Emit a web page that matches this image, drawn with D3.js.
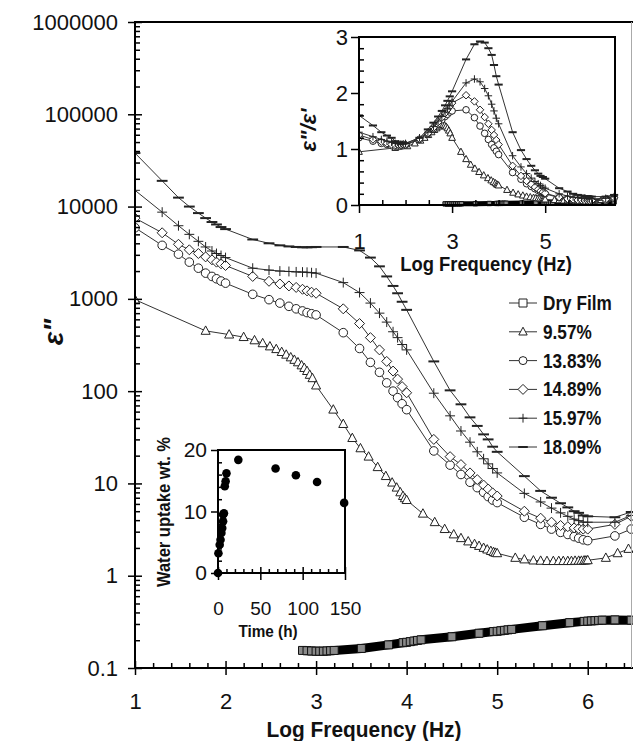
<!DOCTYPE html>
<html>
<head>
<meta charset="utf-8">
<script src="https://cdn.jsdelivr.net/npm/d3@7"></script>
<style>
  body { margin: 0; background: #fff; }
  svg { display: block; }
</style>
</head>
<body>
<script>
// ---- data ----
const seriesNames = ["Dry Film", "9.57%", "13.83%", "14.89%", "15.97%", "18.09%"];

// log10 frequency grid shared by the 13.83 .. 18.09 % runs
const logFreq = [1, 1.3, 1.48, 1.6, 1.7, 1.78, 1.85, 1.9, 1.95, 2,
  2.3, 2.48, 2.6, 2.7, 2.78, 2.85, 2.9, 2.95, 3,
  3.3, 3.48, 3.6, 3.7, 3.78, 3.85, 3.9, 3.95, 4,
  4.3, 4.48, 4.6, 4.7, 4.78, 4.85, 4.9, 4.95, 5,
  5.3, 5.48, 5.6, 5.7, 5.78, 5.85, 5.9, 5.95, 6,
  6.3, 6.48];

const eps1809 = [38000, 19000, 12500, 10000, 8500, 7500, 6800, 6400, 6000, 5700,
  4400, 4000, 3800, 3700, 3650, 3620, 3620, 3630, 3650,
  3650, 3350, 2800, 2250, 1750, 1380, 1150, 930, 760,
  210, 102, 72, 52, 42, 34, 30, 25, 22,
  12, 8.3, 7, 6.1, 5.5, 5, 4.8, 4.5, 4.4,
  4.3, 4.9];
const eps1597 = [15000, 8700, 6200, 5000, 4200, 3650, 3300, 3100, 2950, 2800,
  2150, 2050, 2000, 1980, 1960, 1950, 1940, 1920, 1900,
  1500, 1170, 900, 700, 560, 440, 380, 320, 280,
  95, 54, 37, 28, 22, 18.5, 16.3, 14.5, 13,
  7.8, 6.3, 5.4, 4.8, 4.4, 4.1, 3.95, 3.8, 3.8,
  3.8, 4.5];
const eps1489 = [7500, 5200, 3900, 3400, 3100, 2850, 2650, 2500, 2400, 2300,
  1750, 1550, 1450, 1380, 1330, 1270, 1220, 1180, 1150,
  780, 540, 380, 280, 210, 165, 135, 112, 96,
  30, 19.5, 16, 13, 11, 9.6, 8.7, 7.9, 7.3,
  5, 4.2, 3.8, 3.5, 3.4, 3.3, 3.25, 3.2, 3.2,
  3.6, 4.4];
const eps1383 = [5900, 3800, 3050, 2500, 2150, 1900, 1750, 1650, 1560, 1480,
  1120, 980, 900, 830, 780, 740, 710, 690, 670,
  430, 290, 205, 160, 123, 100, 85, 73, 63,
  22.5, 15.8, 12.5, 10.3, 9, 8, 7.2, 6.6, 6.2,
  4.3, 3.6, 3.2, 2.95, 2.8, 2.65, 2.55, 2.45, 2.4,
  2.7, 3.2];

// the 9.57 % run was measured on its own frequency list
const logFreqTri = [1, 1.78, 2.04, 2.2, 2.32, 2.41, 2.49, 2.56, 2.62, 2.67, 2.72, 2.76, 2.8, 2.84, 2.87, 2.9, 2.93, 2.96, 3,
  3.19, 3.3, 3.4, 3.49, 3.58, 3.68, 3.77, 3.84, 3.89, 3.93, 3.96, 3.98, 4,
  4.18, 4.31, 4.42, 4.52, 4.6, 4.68, 4.75, 4.8, 4.85, 4.89, 4.93, 4.96, 4.98, 5,
  5.2, 5.3, 5.4, 5.48, 5.55, 5.62, 5.68, 5.73, 5.78, 5.82, 5.86, 5.9, 5.93, 5.96, 5.98, 6,
  6.2, 6.33, 6.45];
const eps957 = [980, 450, 410, 385, 355, 330, 305, 285, 265, 248, 232, 218, 205, 190, 178, 165, 150, 138, 115,
  63, 44, 31, 24, 19.5, 15, 12, 10.2, 9, 8, 7.3, 6.9, 6.6,
  4.7, 3.8, 3.2, 2.8, 2.55, 2.35, 2.2, 2.1, 2.0, 1.92, 1.85, 1.8, 1.77, 1.75,
  1.56, 1.5, 1.46, 1.45, 1.44, 1.44, 1.44, 1.44, 1.44, 1.44, 1.45, 1.45, 1.45, 1.46, 1.46, 1.47,
  1.56, 1.75, 1.95];

const logFreqDry = [2.85, 2.9, 2.95, 3, 3.04, 3.08, 3.12, 3.16, 3.2, 3.5, 3.8,
  3.96, 4, 4.04, 4.08, 4.12, 4.16, 4.5, 4.8,
  4.96, 5, 5.04, 5.08, 5.12, 5.16, 5.5, 5.8,
  5.96, 6, 6.04, 6.08, 6.12, 6.16, 6.3, 6.48];
const epsDry = [0.155, 0.154, 0.153, 0.152, 0.152, 0.152, 0.153, 0.154, 0.155, 0.163, 0.178,
  0.188, 0.19, 0.193, 0.196, 0.199, 0.202, 0.218, 0.238,
  0.248, 0.25, 0.253, 0.256, 0.259, 0.262, 0.287, 0.31,
  0.32, 0.322, 0.324, 0.326, 0.328, 0.33, 0.332, 0.33];

// loss tangent (inset, top right)
const ratio1809 = [1.6, 1.42, 1.3, 1.24, 1.2, 1.14, 1.12, 1.11, 1.1, 1.1,
  1.2, 1.35, 1.47, 1.58, 1.68, 1.78, 1.86, 1.94, 2.03,
  2.6, 2.87, 2.92, 2.9, 2.8, 2.68, 2.5, 2.3, 2.15,
  1.3, 0.98, 0.82, 0.7, 0.62, 0.56, 0.52, 0.5, 0.47,
  0.3, 0.24, 0.2, 0.18, 0.17, 0.16, 0.16, 0.15, 0.15,
  0.15, 0.18];
const ratio1597 = [1.3, 1.22, 1.17, 1.14, 1.12, 1.1, 1.09, 1.09, 1.09, 1.1,
  1.2, 1.3, 1.4, 1.5, 1.58, 1.66, 1.72, 1.78, 1.85,
  2.18, 2.25, 2.2, 2.08, 1.95, 1.8, 1.68, 1.55, 1.45,
  0.88, 0.68, 0.56, 0.48, 0.42, 0.38, 0.35, 0.32, 0.3,
  0.2, 0.16, 0.14, 0.13, 0.12, 0.12, 0.11, 0.11, 0.11,
  0.12, 0.15];
const ratio1489 = [1.25, 1.17, 1.13, 1.1, 1.08, 1.07, 1.07, 1.07, 1.08, 1.08,
  1.18, 1.28, 1.38, 1.48, 1.56, 1.64, 1.7, 1.76, 1.82,
  1.96, 1.85, 1.7, 1.57, 1.45, 1.34, 1.25, 1.16, 1.08,
  0.7, 0.52, 0.43, 0.37, 0.32, 0.28, 0.25, 0.23, 0.21,
  0.14, 0.11, 0.1, 0.09, 0.09, 0.08, 0.08, 0.08, 0.08,
  0.1, 0.13];
const ratio1383 = [1.2, 1.14, 1.1, 1.08, 1.06, 1.05, 1.05, 1.05, 1.06, 1.07,
  1.17, 1.27, 1.36, 1.45, 1.52, 1.58, 1.62, 1.66, 1.68,
  1.7, 1.56, 1.41, 1.28, 1.17, 1.08, 1.02, 0.96, 0.9,
  0.58, 0.46, 0.38, 0.33, 0.29, 0.26, 0.24, 0.22, 0.2,
  0.13, 0.1, 0.09, 0.08, 0.08, 0.07, 0.07, 0.07, 0.07,
  0.09, 0.12];
const ratio957 = [0.95, 1.02, 1.05, 1.1, 1.15, 1.2, 1.25, 1.3, 1.34, 1.37, 1.4, 1.42, 1.43, 1.42, 1.4, 1.37, 1.33, 1.28, 1.2,
  0.95, 0.82, 0.72, 0.65, 0.59, 0.53, 0.48, 0.44, 0.41, 0.39, 0.37, 0.36, 0.35,
  0.27, 0.22, 0.19, 0.17, 0.15, 0.14, 0.13, 0.125, 0.12, 0.115, 0.11, 0.11, 0.105, 0.1,
  0.09, 0.085, 0.08, 0.08, 0.08, 0.08, 0.08, 0.08, 0.08, 0.08, 0.08, 0.08, 0.08, 0.08, 0.08, 0.08,
  0.09, 0.11, 0.13];
const ratioDry = [0.02, 0.02, 0.02, 0.02, 0.02, 0.021, 0.021, 0.021, 0.022, 0.024, 0.027,
  0.028, 0.029, 0.029, 0.03, 0.03, 0.031, 0.034, 0.037,
  0.039, 0.04, 0.04, 0.041, 0.041, 0.042, 0.045, 0.048,
  0.05, 0.05, 0.051, 0.051, 0.052, 0.052, 0.053, 0.055];

// water uptake (inset, bottom left)
const uptakeTime = [0, 0.5, 2, 3, 4, 5, 6, 6, 7, 8, 9, 10, 24, 68, 92, 117, 149];
const uptakePct = [0, 3.2, 4.6, 5.4, 6.5, 7.3, 8.4, 9.5, 9.7, 14.1, 14.9, 16.2, 18.4, 17.0, 15.9, 14.8, 11.4];

// tick labels
const mainXTicks = [1, 2, 3, 4, 5, 6];
const mainYTicks = [0.1, 1, 10, 100, 1000, 10000, 100000, 1000000];
const mainYLabels = ["0.1", "1", "10", "100", "1000", "10000", "100000", "1000000"];
const tanXTicks = [1, 3, 5];
const tanYTicks = [0, 1, 2, 3];
const waterXTicks = [0, 50, 100, 150];
const waterYTicks = [0, 10, 20];

// ---- drawing ----
const W = 633, H = 741;
const tickFont = "'Liberation Sans', Arial, sans-serif";
const boldFont = "'Liberation Sans', Arial, sans-serif";

const svg = d3.select("body").append("svg")
    .attr("width", W)
    .attr("height", H);

const shapes = {
    square: s => `M${-s},${-s}H${s}V${s}H${-s}Z`,
    triangle: s => `M0,${-s * 1.15}L${s * 1.05},${s * 0.8}H${-s * 1.05}Z`,
    circle: s => d3.symbol(d3.symbolCircle, Math.PI * s * s)(),
    diamond: s => `M0,${-s * 1.25}L${s * 1.25},0L0,${s * 1.25}L${-s * 1.25},0Z`,
    plus: s => `M${-s * 1.1},0H${s * 1.1}M0,${-s * 1.1}V${s * 1.1}`,
    dash: s => `M${-s * 1.2},0H${s * 1.2}`
};

function drawSeries(g, xs, ys, f, v, shape, size) {
    const pts = f.map((d, i) => [d, v[i]]);
    g.append("path")
        .datum(pts)
        .attr("fill", "none")
        .attr("stroke", "#333")
        .attr("stroke-width", 1)
        .attr("d", d3.line().x(d => xs(d[0])).y(d => ys(d[1])));
    const open = shape !== "plus" && shape !== "dash";
    g.selectAll(null)
        .data(pts)
        .enter().append("path")
        .attr("transform", d => `translate(${xs(d[0])},${ys(d[1])})`)
        .attr("d", shapes[shape](size))
        .attr("fill", open ? "#fff" : "none")
        .attr("stroke", "#222")
        .attr("stroke-width", shape === "dash" ? 2 : 1);
}

function drawDry(g, xs, ys, f, v, band, size) {
    const pts = f.map((d, i) => [d, v[i]]);
    g.append("path")
        .datum(pts)
        .attr("fill", "none")
        .attr("stroke", "#000")
        .attr("stroke-width", band)
        .attr("d", d3.line().x(d => xs(d[0])).y(d => ys(d[1])));
    g.selectAll(null)
        .data(pts)
        .enter().append("path")
        .attr("transform", d => `translate(${xs(d[0])},${ys(d[1])})`)
        .attr("d", shapes.square(size))
        .attr("fill", "#8a8a8a")
        .attr("stroke", "#111")
        .attr("stroke-width", 1);
}

function styleAxis(g, fontSize) {
    g.select(".domain").remove();
    g.selectAll(".tick line").attr("stroke", "#000").attr("stroke-width", 1.5);
    g.selectAll(".tick text")
        .attr("fill", "#111")
        .style("font-family", tickFont)
        .style("font-size", fontSize + "px");
}

function frameLine(x1, y1, x2, y2, color, w) {
    svg.append("line")
        .attr("x1", x1).attr("y1", y1).attr("x2", x2).attr("y2", y2)
        .attr("stroke", color).attr("stroke-width", w);
}

// ---- main plot ----
const x = d3.scaleLinear().domain([1, 6.5]).range([135, 633]);
const y = d3.scaleLog().domain([0.1, 1e6]).range([668, 22]);

svg.append("clipPath").attr("id", "clipMain")
    .append("rect").attr("x", 135).attr("y", 22).attr("width", 498).attr("height", 646);
const plot = svg.append("g").attr("clip-path", "url(#clipMain)");

drawDry(plot, x, y, logFreqDry, epsDry, 9, 4);
drawSeries(plot, x, y, logFreqTri, eps957, "triangle", 4.3);
drawSeries(plot, x, y, logFreq, eps1383, "circle", 4.3);
drawSeries(plot, x, y, logFreq, eps1489, "diamond", 4);
drawSeries(plot, x, y, logFreq, eps1597, "plus", 4.5);
drawSeries(plot, x, y, logFreq, eps1809, "dash", 4.5);

// y axis (log)
const yMinor = [];
mainYTicks.slice(0, -1).forEach(p => { for (let m = 2; m <= 9; m++) yMinor.push(p * m); });

const gy = svg.append("g").attr("transform", "translate(135,0)");
gy.call(d3.axisLeft(y).tickValues(mainYTicks).tickSize(7).tickPadding(10)
    .tickFormat((d, i) => mainYLabels[i]));
styleAxis(gy, 22);
const gyIn = svg.append("g").attr("transform", "translate(135,0)");
gyIn.call(d3.axisRight(y).tickValues(mainYTicks).tickSize(7).tickFormat(""));
styleAxis(gyIn, 10);
const gyMinor = svg.append("g").attr("transform", "translate(135,0)");
gyMinor.call(d3.axisRight(y).tickValues(yMinor).tickSize(5).tickFormat(""));
styleAxis(gyMinor, 10);

// x axis
const xMinor = d3.range(1.2, 6.5, 0.2).filter(d => Math.abs(d - Math.round(d)) > 0.01);
const gx = svg.append("g").attr("transform", "translate(0,668)");
gx.call(d3.axisBottom(x).tickValues(mainXTicks).tickSize(7).tickPadding(18).tickFormat(d3.format("d")));
styleAxis(gx, 22);
const gxIn = svg.append("g").attr("transform", "translate(0,668)");
gxIn.call(d3.axisTop(x).tickValues(mainXTicks).tickSize(7).tickFormat(""));
styleAxis(gxIn, 10);
const gxMinor = svg.append("g").attr("transform", "translate(0,668)");
gxMinor.call(d3.axisTop(x).tickValues(xMinor).tickSize(5).tickFormat(""));
styleAxis(gxMinor, 10);

// frame
frameLine(135, 21, 135, 669, "#000", 2);
frameLine(134, 668, 633, 668, "#000", 2);
frameLine(134, 22, 633, 22, "#000", 2);
frameLine(631.5, 22, 631.5, 668, "#aaa", 1);

svg.append("text")
    .attr("transform", "translate(364,737) scale(0.95,1)")
    .attr("text-anchor", "middle")
    .style("font-family", boldFont).style("font-weight", "bold").style("font-size", "22px")
    .attr("fill", "#111")
    .text("Log Frequency (Hz)");

svg.append("text")
    .attr("transform", "translate(63,332) rotate(-90)")
    .attr("text-anchor", "middle")
    .style("font-family", boldFont).style("font-weight", "bold").style("font-style", "italic")
    .style("font-size", "28px")
    .attr("fill", "#111")
    .text("ε\"");

// legend
const legendShapes = ["square", "triangle", "circle", "diamond", "plus", "dash"];
const legend = svg.selectAll(".legend")
    .data(seriesNames)
    .enter().append("g")
    .attr("class", "legend")
    .attr("transform", (d, i) => "translate(509," + (303 + i * 28.8) + ")");
legend.append("line")
    .attr("x1", 0).attr("x2", 28)
    .attr("stroke", "#333").attr("stroke-width", 1);
legend.append("path")
    .attr("transform", "translate(14,0)")
    .attr("d", (d, i) => shapes[legendShapes[i]](4))
    .attr("fill", (d, i) => i < 4 ? "#fff" : "none")
    .attr("stroke", "#222")
    .attr("stroke-width", (d, i) => i === 5 ? 2 : 1);
legend.append("text")
    .attr("transform", "translate(34,7) scale(0.86,1)")
    .style("font-family", boldFont).style("font-weight", "bold").style("font-size", "20px")
    .attr("fill", "#111")
    .text(d => d);

// ---- inset: loss tangent ----
const xi = d3.scaleLinear().domain([1, 6.5]).range([359, 615]);
const yi = d3.scaleLinear().domain([0, 3]).range([205, 37]);

svg.append("rect")
    .attr("x", 359).attr("y", 37).attr("width", 256).attr("height", 168)
    .attr("fill", "#fff");
svg.append("clipPath").attr("id", "clipTan")
    .append("rect").attr("x", 359).attr("y", 30).attr("width", 264).attr("height", 177);
const tan = svg.append("g").attr("clip-path", "url(#clipTan)");

drawDry(tan, xi, yi, logFreqDry, ratioDry, 5, 2.2);
drawSeries(tan, xi, yi, logFreqTri, ratio957, "triangle", 3.2);
drawSeries(tan, xi, yi, logFreq, ratio1383, "circle", 3.3);
drawSeries(tan, xi, yi, logFreq, ratio1489, "diamond", 3);
drawSeries(tan, xi, yi, logFreq, ratio1597, "plus", 3.4);
drawSeries(tan, xi, yi, logFreq, ratio1809, "dash", 3.4);

const tiYMinor = d3.range(0.2, 3, 0.2).filter(d => Math.abs(d - Math.round(d)) > 0.01);
const tiXMinor = [1.5, 2, 2.5, 3.5, 4, 4.5, 5.5, 6];
const giy = svg.append("g").attr("transform", "translate(359,0)");
giy.call(d3.axisLeft(yi).tickValues(tanYTicks).tickSize(8).tickPadding(3).tickFormat(d3.format("d")));
styleAxis(giy, 22);
const giyMinor = svg.append("g").attr("transform", "translate(359,0)");
giyMinor.call(d3.axisRight(yi).tickValues(tiYMinor).tickSize(5).tickFormat(""));
styleAxis(giyMinor, 10);
const gix = svg.append("g").attr("transform", "translate(0,205)");
gix.call(d3.axisBottom(xi).tickValues(tanXTicks).tickSize(8).tickPadding(20).tickFormat(d3.format("d")));
styleAxis(gix, 22);
const gixMinor = svg.append("g").attr("transform", "translate(0,205)");
gixMinor.call(d3.axisTop(xi).tickValues(tiXMinor).tickSize(5).tickFormat(""));
styleAxis(gixMinor, 10);

svg.append("rect")
    .attr("x", 359).attr("y", 37).attr("width", 256).attr("height", 168)
    .attr("fill", "none").attr("stroke", "#000").attr("stroke-width", 2);

svg.append("text")
    .attr("transform", "translate(486,271) scale(0.92,1)")
    .attr("text-anchor", "middle")
    .style("font-family", boldFont).style("font-weight", "bold").style("font-size", "20px")
    .attr("fill", "#111")
    .text("Log Frequency (Hz)");
svg.append("text")
    .attr("transform", "translate(316,130) rotate(-90)")
    .attr("text-anchor", "middle")
    .style("font-family", boldFont).style("font-weight", "bold").style("font-style", "italic")
    .style("font-size", "22px")
    .attr("fill", "#111")
    .text("ε\"/ε'");

// ---- inset: water uptake ----
const xw = d3.scaleLinear().domain([0, 150]).range([218, 345]);
const yw = d3.scaleLinear().domain([0, 20]).range([573, 450]);

svg.append("rect")
    .attr("x", 218).attr("y", 450).attr("width", 127).attr("height", 123)
    .attr("fill", "#fff");

const wxMinor = d3.range(10, 150, 10).filter(d => d % 50 !== 0);
const wyMinor = d3.range(2, 20, 2).filter(d => d % 10 !== 0);
const gwy = svg.append("g").attr("transform", "translate(218,0)");
gwy.call(d3.axisLeft(yw).tickValues(waterYTicks).tickSize(7).tickPadding(4).tickFormat(d3.format("d")));
styleAxis(gwy, 21);
const gwyMinor = svg.append("g").attr("transform", "translate(218,0)");
gwyMinor.call(d3.axisRight(yw).tickValues(wyMinor).tickSize(4).tickFormat(""));
styleAxis(gwyMinor, 10);
const gwx = svg.append("g").attr("transform", "translate(0,573)");
gwx.call(d3.axisBottom(xw).tickValues(waterXTicks).tickSize(7).tickPadding(22).tickFormat(d3.format("d")));
styleAxis(gwx, 19);
const gwxIn = svg.append("g").attr("transform", "translate(0,573)");
gwxIn.call(d3.axisTop(xw).tickValues(waterXTicks).tickSize(6).tickFormat(""));
styleAxis(gwxIn, 10);
const gwxMinor = svg.append("g").attr("transform", "translate(0,573)");
gwxMinor.call(d3.axisTop(xw).tickValues(wxMinor).tickSize(4).tickFormat(""));
styleAxis(gwxMinor, 10);

svg.append("rect")
    .attr("x", 218).attr("y", 450).attr("width", 127).attr("height", 123)
    .attr("fill", "none").attr("stroke", "#000").attr("stroke-width", 2);

svg.selectAll(".uptake")
    .data(uptakeTime.map((t, i) => [t, uptakePct[i]]))
    .enter().append("circle")
    .attr("class", "uptake")
    .attr("cx", d => xw(d[0]))
    .attr("cy", d => yw(d[1]))
    .attr("r", 4.3)
    .attr("fill", "#000");

svg.append("text")
    .attr("transform", "translate(268,637) scale(0.9,1)")
    .attr("text-anchor", "middle")
    .style("font-family", boldFont).style("font-weight", "bold").style("font-size", "17px")
    .attr("fill", "#111")
    .text("Time (h)");
svg.append("text")
    .attr("transform", "translate(170,512) rotate(-90) scale(0.92,1)")
    .attr("text-anchor", "middle")
    .style("font-family", boldFont).style("font-weight", "bold").style("font-size", "18px")
    .attr("fill", "#111")
    .text("Water uptake wt. %");
</script>
</body>
</html>
